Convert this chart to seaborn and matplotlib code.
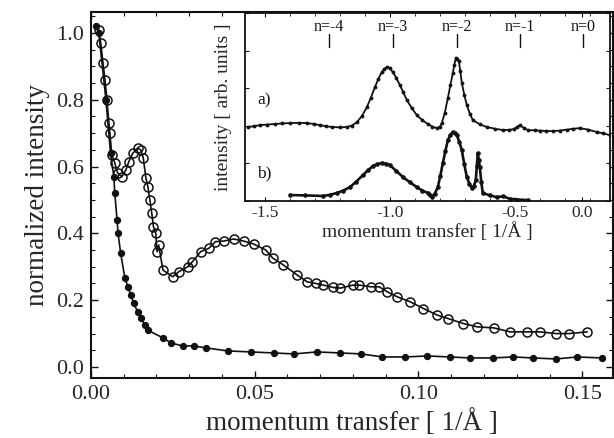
import numpy as np
import pandas as pd
import seaborn as sns
import matplotlib.pyplot as plt
from matplotlib.ticker import MultipleLocator

# Main panel: open circles (upper curve)
q_open = [0.0024, 0.0030, 0.0037, 0.0043, 0.0049, 0.0055, 0.0058, 0.0064, 0.0073, 0.0082,
          0.0094, 0.0107, 0.0116, 0.0128, 0.0143, 0.0152, 0.0160, 0.0168, 0.0174, 0.0180,
          0.0186, 0.0191, 0.0198, 0.0202, 0.0207, 0.0220, 0.0250, 0.0268, 0.0296, 0.0310,
          0.0335, 0.0360, 0.0380, 0.0406, 0.0436, 0.0466, 0.0497, 0.0534, 0.0555, 0.0588,
          0.0630, 0.0660, 0.0686, 0.0710, 0.0740, 0.0762, 0.0800, 0.0820, 0.0854, 0.0880,
          0.0905, 0.0935, 0.0975, 0.1015, 0.1058, 0.1090, 0.1137, 0.1180, 0.1230, 0.1280,
          0.1330, 0.1370, 0.1420, 0.1460, 0.1515]
i_open = [1.01, 0.97, 0.91, 0.86, 0.80, 0.73, 0.70, 0.635, 0.61, 0.58,
          0.57, 0.59, 0.615, 0.64, 0.655, 0.65, 0.625, 0.565, 0.54, 0.50,
          0.46, 0.42, 0.40, 0.345, 0.365, 0.29, 0.27, 0.285, 0.30, 0.315,
          0.345, 0.355, 0.375, 0.377, 0.383, 0.377, 0.368, 0.35, 0.326, 0.305,
          0.275, 0.255, 0.25, 0.245, 0.238, 0.236, 0.245, 0.245, 0.24, 0.24,
          0.225, 0.21, 0.195, 0.175, 0.155, 0.145, 0.13, 0.12, 0.117, 0.105,
          0.105, 0.105, 0.10, 0.10, 0.105]

# Main panel: filled dots (lower curve)
q_fill = [0.0015, 0.0024, 0.0046, 0.0060, 0.0070, 0.0073, 0.0080, 0.0083, 0.0091, 0.0104,
          0.0113, 0.0122, 0.0131, 0.0143, 0.0152, 0.0165, 0.0174, 0.0220, 0.0244, 0.0280,
          0.0314, 0.0352, 0.0418, 0.0488, 0.0558, 0.0620, 0.0690, 0.0760, 0.0826, 0.0890,
          0.0960, 0.1027, 0.1095, 0.1158, 0.1226, 0.1290, 0.1350, 0.1420, 0.1485, 0.1560]
i_fill = [1.02, 1.00, 0.80, 0.64, 0.57, 0.52, 0.44, 0.40, 0.34, 0.265,
          0.24, 0.215, 0.19, 0.165, 0.147, 0.126, 0.11, 0.087, 0.072, 0.063,
          0.063, 0.057, 0.048, 0.045, 0.042, 0.039, 0.045, 0.042, 0.039, 0.030,
          0.030, 0.033, 0.030, 0.027, 0.027, 0.030, 0.027, 0.024, 0.030, 0.027]

# Inset: scan a) and scan b)
q_a = [-1.568, -1.545, -1.52, -1.49, -1.46, -1.43, -1.40, -1.365, -1.332, -1.305,
       -1.28, -1.255, -1.232, -1.20, -1.172, -1.152, -1.132, -1.112, -1.092, -1.076,
       -1.06, -1.046, -1.032, -1.022, -1.012, -1.0, -0.988, -0.974, -0.96, -0.946,
       -0.932, -0.912, -0.892, -0.87, -0.848, -0.83, -0.812, -0.80, -0.792, -0.78,
       -0.768, -0.758, -0.748, -0.742, -0.736, -0.730, -0.724, -0.718, -0.712, -0.702,
       -0.692, -0.68, -0.668, -0.64, -0.612, -0.58, -0.548, -0.525, -0.504, -0.49,
       -0.48, -0.465, -0.448, -0.42, -0.40, -0.375, -0.348, -0.32, -0.29, -0.265,
       -0.24, -0.205, -0.172, -0.145, -0.12]
i_a = [0.394, 0.398, 0.404, 0.407, 0.410, 0.413, 0.415, 0.416, 0.415, 0.410,
       0.404, 0.398, 0.394, 0.392, 0.394, 0.402, 0.420, 0.452, 0.50, 0.55,
       0.606, 0.650, 0.686, 0.704, 0.713, 0.706, 0.686, 0.655, 0.617, 0.578,
       0.537, 0.494, 0.457, 0.430, 0.410, 0.396, 0.388, 0.395, 0.415, 0.470,
       0.548, 0.615, 0.681, 0.725, 0.761, 0.758, 0.745, 0.690, 0.628, 0.565,
       0.511, 0.465, 0.431, 0.408, 0.394, 0.385, 0.378, 0.378, 0.383, 0.395,
       0.404, 0.390, 0.378, 0.376, 0.375, 0.373, 0.372, 0.375, 0.38, 0.385,
       0.388, 0.380, 0.367, 0.360, 0.351]
q_b = [-1.40, -1.34, -1.268, -1.24, -1.212, -1.186, -1.16, -1.134, -1.108, -1.088,
       -1.068, -1.05, -1.032, -1.016, -1.0, -0.974, -0.948, -0.92, -0.892, -0.87,
       -0.848, -0.840, -0.832, -0.820, -0.808, -0.798, -0.788, -0.778, -0.768, -0.758,
       -0.748, -0.740, -0.732, -0.722, -0.712, -0.702, -0.692, -0.682, -0.672, -0.664,
       -0.656, -0.652, -0.648, -0.644, -0.64, -0.634, -0.628, -0.60, -0.572, -0.546,
       -0.52, -0.49, -0.448]
i_b = [0.032, 0.030, 0.027, 0.033, 0.043, 0.056, 0.074, 0.104, 0.138, 0.164,
       0.186, 0.197, 0.202, 0.199, 0.191, 0.160, 0.128, 0.100, 0.074, 0.056,
       0.043, 0.030, 0.021, 0.040, 0.074, 0.135, 0.202, 0.265, 0.324, 0.352,
       0.367, 0.364, 0.351, 0.315, 0.271, 0.195, 0.128, 0.092, 0.069, 0.080,
       0.112, 0.185, 0.255, 0.220, 0.181, 0.100, 0.043, 0.030, 0.021, 0.025,
       0.012, 0.008, 0.005]

order_labels = ["n=-4", "n=-3", "n=-2", "n=-1", "n=0"]
order_pos = [-1.244, -0.988, -0.732, -0.48, -0.228]
inset_tick_pos = [-1.5, -1.0, -0.5, -0.23]
inset_tick_labels = ["-1.5", "-1.0", "-0.5", "0.0"]

sns.set_theme(style="ticks")
plt.rcParams['font.family'] = ['Liberation Serif', 'DejaVu Serif']
plt.rcParams['xtick.direction'] = 'in'
plt.rcParams['ytick.direction'] = 'in'

fig = plt.figure(figsize=(6.14, 4.38), dpi=100)
ax = fig.add_axes([0.148, 0.137, 0.851, 0.836])

ink = "#111111"
sns.lineplot(x=q_fill, y=i_fill, ax=ax, color=ink, lw=1.2, marker="o", markersize=4.5,
             markerfacecolor=ink, markeredgecolor=ink, sort=False)
sns.lineplot(x=q_open, y=i_open, ax=ax, color=ink, lw=1.2, marker="o", markersize=6.5,
             markerfacecolor="none", markeredgecolor=ink, markeredgewidth=1.1, sort=False)

ax.set_xlim(0, 0.1595)
ax.set_ylim(-0.033, 1.063)
ax.xaxis.set_major_locator(MultipleLocator(0.05))
ax.xaxis.set_minor_locator(MultipleLocator(0.01))
ax.yaxis.set_major_locator(MultipleLocator(0.2))
ax.yaxis.set_minor_locator(MultipleLocator(0.05))
ax.xaxis.set_major_formatter(plt.FormatStrFormatter('%.2f'))
ax.yaxis.set_major_formatter(plt.FormatStrFormatter('%.1f'))
ax.tick_params(which="both", top=True, right=True, direction="in", color=ink)
ax.tick_params(which="major", length=5, width=1, labelsize=16, pad=5)
ax.tick_params(which="minor", length=3, width=0.8)
for s in ax.spines.values():
    s.set_linewidth(1.5)
    s.set_color(ink)
ax.set_xlabel("momentum transfer [ 1/Å ]", fontsize=19.5, labelpad=4)
ax.set_ylabel("normalized intensity", fontsize=19.5, labelpad=4)

# inset
axi = fig.add_axes([0.399, 0.541, 0.594, 0.429])
axi.set_facecolor("white")
sns.lineplot(x=q_a, y=i_a, ax=axi, color=ink, lw=1.3, marker="o", markersize=2,
             markerfacecolor=ink, markeredgecolor=ink, sort=False)
sns.lineplot(x=q_b, y=i_b, ax=axi, color=ink, lw=1.9, marker="o", markersize=2.5,
             markerfacecolor=ink, markeredgecolor=ink, sort=False)
axi.set_xlim(-1.58, -0.12)
axi.set_ylim(0, 1)
axi.set_xticks(inset_tick_pos, labels=inset_tick_labels)
axi.xaxis.set_minor_locator(MultipleLocator(0.1))
axi.yaxis.set_major_locator(MultipleLocator(0.2))
axi.yaxis.set_minor_locator(MultipleLocator(0.2))
axi.set_yticklabels([])
axi.tick_params(which="both", top=True, right=True, direction="in", color=ink)
axi.tick_params(which="major", length=3, width=0.8, labelsize=12.5, pad=3)
axi.tick_params(which="minor", length=2, width=0.6)
for s in axi.spines.values():
    s.set_linewidth(1.3)
    s.set_color(ink)
axi.set_xlabel("momentum transfer [ 1/Å ]", fontsize=14, labelpad=1)
axi.set_ylabel("intensity [ arb. units ]", fontsize=14, labelpad=6)

for lab, pos in zip(order_labels, order_pos):
    axi.text(pos, 0.925, lab, ha="center", va="center", fontsize=11.5, color=ink)
    axi.plot([pos, pos], [0.82, 0.89], color=ink, lw=1)
axi.text(-1.53, 0.537, "a)", ha="left", va="center", fontsize=12.5, color=ink)
axi.text(-1.53, 0.149, "b)", ha="left", va="center", fontsize=12.5, color=ink)

fig.savefig("out.png", dpi=100)
